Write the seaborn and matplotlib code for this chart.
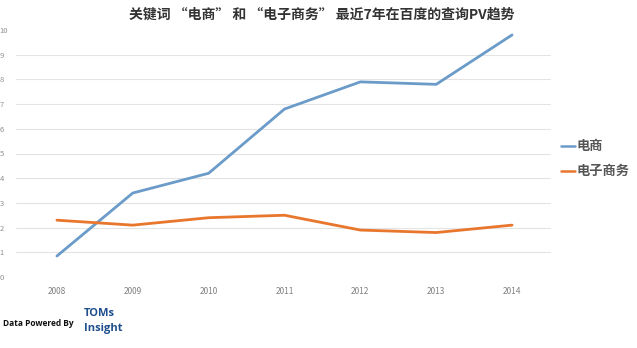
import matplotlib
matplotlib.use("Agg")
import matplotlib.pyplot as plt
import seaborn as sns
import pandas as pd

years = ["2008", "2009", "2010", "2011", "2012", "2013", "2014"]
dianshang = [0.85, 3.4, 4.2, 6.8, 7.9, 7.8, 9.8]
dianzi_shangwu = [2.3, 2.1, 2.4, 2.5, 1.9, 1.8, 2.1]
series_names = ["电商", "电子商务"]
colors = ["#6b9bc9", "#e8762d"]

sns.set_theme(style="white")
plt.rcParams['font.family'] = ['Noto Sans CJK SC', 'DejaVu Sans']

df = pd.DataFrame({
    "year": years * 2,
    "value": dianshang + dianzi_shangwu,
    "series": [series_names[0]] * 7 + [series_names[1]] * 7,
})

fig = plt.figure(figsize=(6.37, 3.48), dpi=100)
ax = fig.add_axes([19/637, 1 - 277/348, (550 - 19)/637, (277 - 30)/348])
sns.lineplot(data=df, x="year", y="value", hue="series", palette=colors,
             linewidth=2.0, ax=ax, legend=False, sort=False, zorder=3)

ax.set_xlim(-0.5, 6.5)
ax.set_ylim(0, 10)
ax.set_yticks(range(0, 11))
ax.set_xlabel("")
ax.set_ylabel("")
for s in ax.spines.values():
    s.set_visible(False)
for v in range(1, 10):
    ax.axhline(v, xmin=-0.006, xmax=1.0, color="#e4e4e4", linewidth=0.8,
               zorder=1, clip_on=False)
ax.tick_params(axis="y", labelsize=5.5, labelcolor="#909090", length=0)
ax.tick_params(axis="x", labelsize=6, labelcolor="#808080", pad=7, length=0)
for lab in ax.get_yticklabels():
    lab.set_horizontalalignment("left")
ax.yaxis.set_tick_params(pad=14)

fig.text(0.505, 1 - 15/348, "关键词 “电商” 和 “电子商务” 最近7年在百度的查询PV趋势",
         ha="center", va="center", fontsize=10, fontweight="bold", color="#333333")

# legend
for i, (name, c) in enumerate(zip(series_names, colors)):
    yy = 1 - (146 + i * 25) / 348
    fig.lines.append(plt.Line2D([561/637, 575/637], [yy, yy], transform=fig.transFigure,
                                color=c, linewidth=1.8))
    fig.text(577/637, yy, name, ha="left", va="center", fontsize=9.5,
             fontweight="bold", color="#555555")

fig.text(3/637, 1 - 324/348, "Data Powered By", ha="left", va="center",
         fontsize=6, fontweight="bold", color="#111111", family="Open Sans")
fig.text(84/637, 1 - 313/348, "TOMs", ha="left", va="center",
         fontsize=8, fontweight="bold", color="#1f4e8c", family="Open Sans")
fig.text(84/637, 1 - 329/348, "Insight", ha="left", va="center",
         fontsize=8, fontweight="bold", color="#1f4e8c", family="Open Sans")

fig.savefig("out.png", dpi=100, facecolor="white")
